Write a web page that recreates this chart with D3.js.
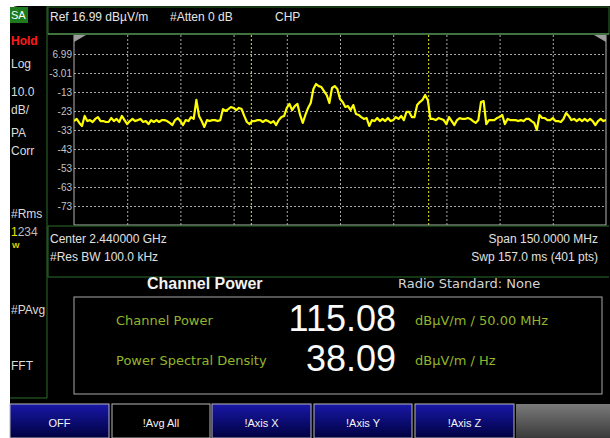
<!DOCTYPE html>
<html>
<head>
<meta charset="utf-8">
<script src="https://cdn.jsdelivr.net/npm/d3@7"></script>
<style>
  body { margin: 0; background: #fff; }
  svg { display: block; font-family: "Liberation Sans", Arial, sans-serif; }
</style>
</head>
<body>
<div id="chart"></div>
<script>
// analyzer settings
var refLevel = 16.99, dbPerDiv = 10, numDivs = 10;
var centerMHz = 2440, spanMHz = 150, channelBwMHz = 50;
var yTickValues = [6.99, -3.01, -13.01, -23.01, -33.01, -43.01, -53.01, -63.01, -73.01];
var yTickLabels = ["6.99", "-3.01", "-13", "-23", "-33", "-43", "-53", "-63", "-73"];

// trace, dBuV/m, one point every 0.75 MHz from the left edge of the span
var traceStepMHz = 0.75;
var traceLevel = [
  -28.3, -27.2, -29.3, -30.9, -25.6, -28.3, -27.8, -28.8, -27.2, -26.2,
  -28.3, -28.3, -28.8, -28.8, -26.7, -28.3, -27.2, -28.8, -25.6, -27.8,
  -29.9, -28.3, -27.2, -28.3, -27.8, -27.2, -28.8, -28.3, -29.9, -27.8,
  -28.8, -27.8, -28.8, -27.8, -27.8, -28.3, -29.3, -30.4, -27.8, -26.7,
  -28.3, -30.4, -27.8, -28.3, -26.2, -27.2, -17.2, -25.6, -28.3, -31.4,
  -27.8, -28.3, -27.8, -27.8, -28.3, -27.8, -22.0, -23.0, -22.0, -20.9,
  -21.4, -22.5, -21.4, -22.0, -25.6, -28.8, -29.9, -28.3, -28.3, -27.8,
  -27.8, -28.8, -27.8, -28.3, -29.3, -28.3, -30.4, -27.8, -26.2, -25.6,
  -21.4, -19.3, -22.5, -20.4, -19.3, -25.1, -29.3, -25.1, -21.4, -18.8,
  -11.4, -8.8, -9.9, -10.4, -12.5, -14.6, -18.8, -10.9, -9.9, -11.4,
  -16.7, -18.3, -20.9, -20.4, -22.5, -19.9, -24.6, -25.1, -26.2, -27.2,
  -26.7, -30.9, -27.8, -28.3, -26.7, -28.3, -27.2, -28.3, -26.7, -28.3,
  -27.8, -26.2, -27.2, -25.6, -27.8, -23.5, -23.5, -26.2, -26.2, -19.9,
  -18.3, -17.2, -14.6, -17.2, -27.2, -27.2, -27.8, -26.7, -27.2, -27.8,
  -29.9, -26.2, -28.3, -30.4, -27.8, -26.7, -27.2, -27.2, -26.7, -27.2,
  -28.3, -29.3, -27.8, -18.3, -17.8, -29.9, -27.8, -27.8, -27.8, -26.7,
  -26.2, -25.1, -29.9, -27.2, -27.8, -27.8, -27.8, -28.3, -27.8, -28.3,
  -27.2, -27.2, -28.3, -29.3, -33.0, -25.1, -26.7, -26.7, -27.8, -27.8,
  -26.7, -28.3, -28.3, -28.8, -27.2, -24.1, -25.6, -27.8, -27.2, -28.3,
  -27.2, -28.3, -27.2, -28.3, -27.2, -28.3, -30.4, -28.3, -27.2, -28.3,
  -27.8
];

// readouts
var headerTexts = ["Ref 16.99 dB\u00b5V/m", "#Atten 0 dB", "CHP"];
var sideLabels = ["Log", "10.0", "dB/", "PA", "Corr", "#Rms"];
var infoLeft = ["Center 2.440000 GHz", "#Res BW 100.0 kHz"];
var infoRight = ["Span 150.0000 MHz", "Swp 157.0 ms (401 pts)"];
var resultNames = ["Channel Power", "Power Spectral Density"];
var resultValues = ["115.08", "38.09"];
var resultUnits = ["dB\u00b5V/m / 50.00 MHz", "dB\u00b5V/m / Hz"];
var buttonLabels = ["OFF", "!Avg All", "!Axis X", "!Axis Y", "!Axis Z"];

var W = 610, H = 438;
var margin = {left: 74, top: 35, right: 4, bottom: 213};
var width = W - margin.left - margin.right;
var height = H - margin.top - margin.bottom;
var wide = "DejaVu Sans, Verdana, sans-serif";

var svg = d3.select("#chart").append("svg")
  .attr("width", W)
  .attr("height", H);

var defs = svg.append("defs");
var blue = defs.append("linearGradient").attr("id", "btnBlue")
  .attr("x1", 0).attr("y1", 0).attr("x2", 0).attr("y2", 1);
blue.append("stop").attr("offset", "0%").attr("stop-color", "#1818a8");
blue.append("stop").attr("offset", "100%").attr("stop-color", "#000040");
var grey = defs.append("linearGradient").attr("id", "btnGrey")
  .attr("x1", 0).attr("y1", 0).attr("x2", 0).attr("y2", 1);
grey.append("stop").attr("offset", "0%").attr("stop-color", "#7a7a7a");
grey.append("stop").attr("offset", "100%").attr("stop-color", "#3a3a3a");
defs.append("clipPath").attr("id", "plotClip")
  .append("rect").attr("width", width).attr("height", height);

// screen background
svg.append("path")
  .attr("d", "M10,14 Q10,6 18,6 L610,6 L610,438 L10,438 Z")
  .attr("fill", "#000");

var green = "#2c6e2c";

// header bar
svg.append("rect").attr("x", 48).attr("y", 7).attr("width", 561).attr("height", 27)
  .attr("fill", "none").attr("stroke", green);
svg.append("line").attr("x1", 48).attr("x2", 609).attr("y1", 34).attr("y2", 34)
  .attr("stroke", "#6fae6f");
svg.selectAll(".hdr").data(headerTexts).enter().append("text")
  .attr("x", (d, i) => [50, 170, 275][i]).attr("y", 21)
  .attr("fill", "#e6e6e6").attr("font-size", 12)
  .text(d => d);

// left status column
svg.append("path").attr("d", "M47,6 L47,398 L10,398")
  .attr("fill", "none").attr("stroke", green);
svg.append("rect").attr("x", 10).attr("y", 7).attr("width", 18).attr("height", 16)
  .attr("fill", "#1d7a1d");
svg.append("text").attr("x", 11).attr("y", 19).attr("fill", "#fff")
  .attr("font-size", 11).text("SA");
svg.append("text").attr("x", 11).attr("y", 45).attr("fill", "#ff1a1a")
  .attr("font-size", 12).attr("font-weight", "bold").text("Hold");
svg.selectAll(".side").data(sideLabels).enter().append("text")
  .attr("x", 11).attr("y", (d, i) => [68, 96, 114, 137, 155, 218][i])
  .attr("fill", "#dcdcdc").attr("font-size", 12)
  .text(d => d);
var trc = svg.append("text").attr("x", 11).attr("y", 236).attr("font-size", 12);
trc.append("tspan").attr("fill", "#f0e000").text("1");
trc.append("tspan").attr("fill", "#bdbdbd").text("234");
svg.append("text").attr("x", 12).attr("y", 248).attr("fill", "#e0d000")
  .attr("font-size", 8).attr("font-weight", "bold").text("W");
svg.append("text").attr("x", 11).attr("y", 314).attr("fill", "#dcdcdc")
  .attr("font-size", 12).text("#PAvg");
svg.append("text").attr("x", 11).attr("y", 370).attr("fill", "#dcdcdc")
  .attr("font-size", 12).text("FFT");

// plot
var g = svg.append("g")
  .attr("transform", "translate(" + margin.left + "," + margin.top + ")");

var x = d3.scaleLinear()
  .domain([centerMHz - spanMHz / 2, centerMHz + spanMHz / 2])
  .range([0, width]);
var y = d3.scaleLinear()
  .domain([refLevel - dbPerDiv * numDivs, refLevel])
  .range([height, 0]);

var xGrid = d3.range(1, numDivs).map(i => x.invert(i * width / numDivs));
g.append("g")
  .attr("transform", "translate(0," + height + ")")
  .call(d3.axisBottom(x).tickValues(xGrid).tickSize(-height).tickFormat(""))
  .call(a => a.select(".domain").remove())
  .selectAll("line").attr("stroke", "#a8a8a8").attr("stroke-dasharray", "2,2");

var yAxis = g.append("g")
  .call(d3.axisLeft(y).tickValues(yTickValues).tickSize(-width).tickPadding(2)
    .tickFormat((d, i) => yTickLabels[i]));
yAxis.select(".domain").remove();
yAxis.selectAll("line").attr("stroke", "#a8a8a8").attr("stroke-dasharray", "2,2");
yAxis.selectAll("text").attr("fill", "#c4c4c4").attr("font-size", 10)
  .attr("font-family", "Liberation Sans, Arial, sans-serif");

// channel edges
var chanEdges = [centerMHz - channelBwMHz / 2, centerMHz + channelBwMHz / 2];
g.selectAll(".chan").data(chanEdges).enter().append("line")
  .attr("x1", d => x(d)).attr("x2", d => x(d))
  .attr("y1", 0).attr("y2", height + 2)
  .attr("stroke", "#e8e800").attr("stroke-dasharray", "2,2");

// border
g.append("path")
  .attr("d", "M0,0 V" + height + " H" + width + " V0")
  .attr("fill", "none").attr("stroke", "#b4b4b4");
svg.append("line").attr("x1", 48).attr("x2", 609).attr("y1", 226).attr("y2", 226)
  .attr("stroke", green);
g.append("path").attr("d", "M0,0 h12 L0,7 Z").attr("fill", "#9c9c9c");
g.append("path").attr("d", "M" + width + ",0 h-12 L" + width + ",7 Z").attr("fill", "#9c9c9c");

var startMHz = centerMHz - spanMHz / 2;
var traceLine = d3.line()
  .x((d, i) => x(startMHz + i * traceStepMHz))
  .y(d => y(d));
g.append("path")
  .datum(traceLevel)
  .attr("clip-path", "url(#plotClip)")
  .attr("d", traceLine)
  .attr("fill", "none")
  .attr("stroke", "#ffff00")
  .attr("stroke-width", 2.2)
  .attr("stroke-linejoin", "round");

// sweep info box
svg.append("path").attr("d", "M48,226 V277 H609")
  .attr("fill", "none").attr("stroke", green);
svg.selectAll(".infoL").data(infoLeft).enter().append("text")
  .attr("x", 50).attr("y", (d, i) => 243 + i * 18)
  .attr("fill", "#e0e0e0").attr("font-size", 12).text(d => d);
svg.selectAll(".infoR").data(infoRight).enter().append("text")
  .attr("x", 598).attr("y", (d, i) => 243 + i * 18)
  .attr("text-anchor", "end")
  .attr("fill", "#e0e0e0").attr("font-size", 12).text(d => d);

// channel power result
svg.append("text").attr("x", 147).attr("y", 289)
  .attr("fill", "#f2f2f2").attr("font-size", 16).attr("font-weight", "bold")
  .text("Channel Power");
svg.append("text").attr("x", 398).attr("y", 288)
  .attr("fill", "#d4d4d4").attr("font-size", 13).attr("font-family", wide)
  .text("Radio Standard: None");
svg.append("rect").attr("x", 74).attr("y", 297).attr("width", 528).attr("height", 97)
  .attr("fill", "none").attr("stroke", "#a8a8a8");
var rows = svg.selectAll(".res").data(resultNames).enter().append("g")
  .attr("transform", (d, i) => "translate(0," + (i * 40) + ")");
rows.append("text").attr("x", 116).attr("y", 325)
  .attr("fill", "#93b52a").attr("font-size", 13).attr("font-family", wide)
  .text(d => d);
rows.append("text").attr("x", 396).attr("y", 331)
  .attr("text-anchor", "end")
  .attr("fill", "#fafafa").attr("font-size", 36)
  .text((d, i) => resultValues[i]);
rows.append("text").attr("x", 415).attr("y", 325)
  .attr("fill", "#93b52a").attr("font-size", 13).attr("font-family", wide)
  .text((d, i) => resultUnits[i]);

// softkeys
var btnX = [10, 112, 212, 314, 415];
var btnW = [99, 98, 99, 98, 99];
var btns = svg.selectAll(".btn").data(buttonLabels).enter().append("g")
  .attr("transform", (d, i) => "translate(" + btnX[i] + ",404)");
btns.append("rect")
  .attr("width", (d, i) => btnW[i]).attr("height", 34)
  .attr("fill", (d, i) => i == 1 ? "#000" : "url(#btnBlue)")
  .attr("stroke", "#b8b8b8");
btns.append("text")
  .attr("x", (d, i) => btnW[i] / 2).attr("y", 23)
  .attr("text-anchor", "middle")
  .attr("fill", "#f4f4f4").attr("font-size", 11)
  .text(d => d);
svg.append("rect").attr("x", 516).attr("y", 404).attr("width", 94).attr("height", 34)
  .attr("fill", "url(#btnGrey)");
</script>
</body>
</html>
